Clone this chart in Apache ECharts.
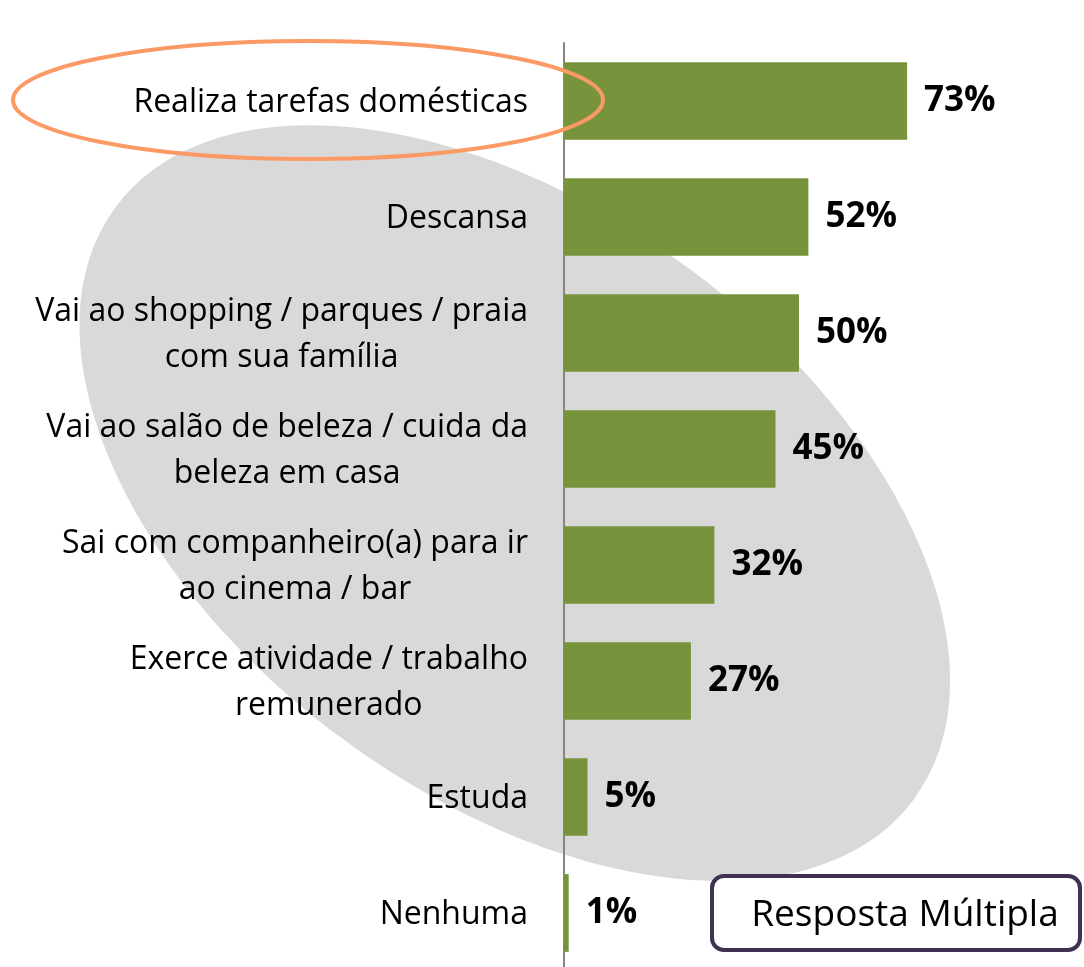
<!DOCTYPE html>
<html>
<head>
<meta charset="utf-8">
<script src="https://cdn.jsdelivr.net/npm/echarts@6/dist/echarts.min.js"></script>
<style>
  html, body { margin: 0; padding: 0; background: #fff; }
  #chart { width: 1084px; height: 967px; }
</style>
</head>
<body>
<div id="chart"></div>
<script>
// categorias, de cima para baixo
const categorias = [
    'Realiza tarefas domésticas',
    'Descansa',
    'Vai ao shopping / parques / praia\ncom sua família',
    'Vai ao salão de beleza / cuida da\nbeleza em casa',
    'Sai com companheiro(a) para ir\nao cinema / bar',
    'Exerce atividade / trabalho\nremunerado',
    'Estuda',
    'Nenhuma'
];
const valores = [73, 52, 50, 45, 32, 27, 5, 1];
const notaTexto = 'Resposta Múltipla';

const FONTE = '"Open Sans", Lato, sans-serif';

const chart = echarts.init(document.getElementById('chart'));

const option = {
    animation: false,
    backgroundColor: '#fff',
    grid: {
        left: 564,
        top: 43,
        width: 470,
        height: 928,
        containLabel: false,
        outerBoundsMode: 'none'
    },
    xAxis: {
        type: 'value',
        min: 0,
        max: 100,
        show: false
    },
    yAxis: {
        type: 'category',
        inverse: true,
        data: categorias,
        axisLine: { lineStyle: { color: '#868686', width: 2 } },
        axisTick: { length: 12, lineStyle: { color: '#868686', width: 2 } },
        axisLabel: {
            margin: 36,
            align: 'right',
            padding: [3, 0, 0, 0],
            // linhas centradas entre si, bloco alinhado à direita
            formatter: function (v) {
                return v.split('\n').map(function (l) { return '{c|' + l + '}'; }).join('\n');
            },
            rich: {
                c: {
                    align: 'center',
                    fontFamily: FONTE,
                    fontSize: 32,
                    lineHeight: 46,
                    color: '#000'
                }
            }
        }
    },
    series: [{
        type: 'bar',
        data: valores,
        barCategoryGap: '33%',
        itemStyle: { color: '#77933c' },
        label: {
            show: true,
            position: 'right',
            distance: 17,
            formatter: '{c}%',
            fontFamily: FONTE,
            fontWeight: 'bold',
            fontSize: 35,
            color: '#000'
        }
    }],
    graphic: [
        {
            // elipse cinza de fundo
            type: 'ellipse',
            z: -1,
            x: 515,
            y: 503,
            rotation: -36.6 * Math.PI / 180,
            shape: { cx: 0, cy: 0, rx: 497, ry: 292 },
            style: { fill: '#d9d9d9' }
        },
        {
            // destaque laranja
            type: 'ellipse',
            z: 100,
            shape: { cx: 308, cy: 100, rx: 295, ry: 59 },
            style: { fill: null, stroke: '#fb9a64', lineWidth: 4 }
        },
        {
            type: 'group',
            z: 100,
            children: [
                {
                    type: 'rect',
                    shape: { x: 712, y: 876, width: 368, height: 74, r: 12 },
                    style: { fill: '#fff', stroke: '#3f3151', lineWidth: 4 }
                },
                {
                    type: 'text',
                    x: 905,
                    y: 915,
                    style: {
                        text: notaTexto,
                        font: '37px ' + FONTE,
                        fill: '#000',
                        textAlign: 'center',
                        textVerticalAlign: 'middle'
                    }
                }
            ]
        }
    ]
};

chart.setOption(option);
</script>
</body>
</html>
